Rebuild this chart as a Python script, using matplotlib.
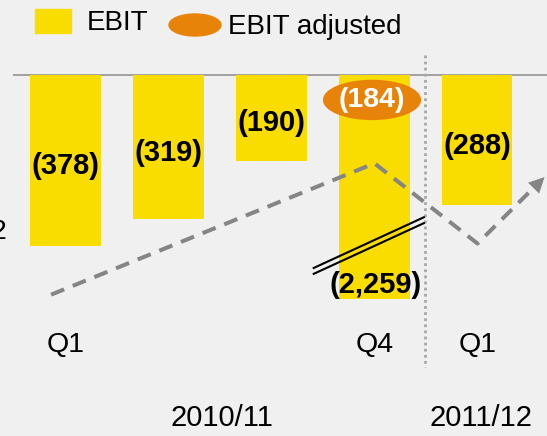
import matplotlib
matplotlib.use('Agg')
import matplotlib.pyplot as plt
from matplotlib.patches import Ellipse, Rectangle

# EBIT per quarter (negative = loss)
quarters = ['Q1', 'Q2', 'Q3', 'Q4', 'Q1']
quarter_shown = ['Q1', '', '', 'Q4', 'Q1']
ebit = [-378, -319, -190, -2259, -288]
ebit_labels = ['(378)', '(319)', '(190)', '(2,259)', '(288)']
adjusted_q4 = -184
adjusted_label = '(184)'
years = ['2010/11', '2011/12']
year_pos = [1.52, 4.03]

# decorative trend arrow (x index, EBIT value)
trend_x = [-0.14, 3.0, 4.0, 4.67]
trend_y = [-485, -195, -372, -221]

axis_break = -495   # bars below this are drawn broken

yellow = '#F9DC00'
orange = '#E8830A'
grey = '#858585'
bg = '#F0F0F0'

plt.rcParams['font.family'] = ['Liberation Sans', 'DejaVu Sans']

fig = plt.figure(figsize=(5.47, 4.36), dpi=100, facecolor=bg)
ax = fig.add_axes([0, 0, 1, 1])
ax.set_facecolor(bg)
ax.set_xlim(-0.636, 4.675)
ax.set_ylim(-797, 165.6)
ax.axis('off')

x = list(range(len(quarters)))
drawn = [max(v, axis_break) for v in ebit]
ax.bar(x, drawn, width=0.68, color=yellow, zorder=2)

# zero line and year separator
ax.plot([-0.5, 4.675], [0, 0], color='#A0A0A0', lw=1.4, zorder=1)
ax.plot([3.49, 3.49], [44, -645], color='#A8A8A8', lw=2, ls=(0, (1, 1.2)), zorder=1)

# value labels
for i, (v, d, lab) in enumerate(zip(ebit, drawn, ebit_labels)):
    if v < axis_break:
        ax.text(i + 0.01, d + 32, lab, ha='center', va='center', fontsize=21,
                fontweight='bold', zorder=5)
    else:
        ax.text(i, d / 2 - 12, lab, ha='center', va='center', fontsize=21,
                fontweight='bold', zorder=5)

# adjusted EBIT bubble on Q4
ax.add_patch(Ellipse((3 - 0.024, adjusted_q4 + 129), 0.94, 86, color=orange, zorder=4))
ax.text(3 - 0.024, adjusted_q4 + 129, adjusted_label, ha='center', va='center',
        fontsize=20.5, fontweight='bold', color='white', zorder=5)

# break marks on the Q4 bar
ax.plot([2.41, 3.48], [-426, -314], color='black', lw=1.5, zorder=6)
ax.plot([2.41, 3.48], [-439, -327], color='black', lw=1.5, zorder=6)

# trend arrow
ax.plot(trend_x[:-1] + [trend_x[-1] - 0.08], trend_y[:-1] + [trend_y[-1] - 18],
        color=grey, lw=2.9, ls=(0, (3.5, 2.3)), zorder=3)
ax.annotate('', xy=(trend_x[-1], trend_y[-1]), xytext=(trend_x[-1] - 0.1, trend_y[-1] - 23),
            arrowprops=dict(arrowstyle='-|>', color=grey, lw=0, mutation_scale=28), zorder=3)

# category labels
for i, q in enumerate(quarter_shown):
    ax.text(i, -596, q, ha='center', va='center', fontsize=20.5)
for pos, yr in zip(year_pos, years):
    ax.text(pos, -758, yr, ha='center', va='center', fontsize=21)

# cut-off label at left edge (as in the source slide)
fig.text(6 / 547, 1 - 232 / 436, '2', ha='right', va='center', fontsize=20.5)

# legend
fig.patches.append(Rectangle((35 / 547, 1 - 33 / 436), 36 / 547, 24 / 436,
                             transform=fig.transFigure, color=yellow))
fig.text(87 / 547, 1 - 23 / 436, 'EBIT', ha='left', va='center', fontsize=20)
fig.patches.append(Ellipse((195 / 547, 1 - 25 / 436), 52 / 547, 22 / 436,
                           transform=fig.transFigure, color=orange))
fig.text(228 / 547, 1 - 27 / 436, 'EBIT adjusted', ha='left', va='center', fontsize=20)

fig.savefig('out.png', dpi=100, facecolor=bg)
